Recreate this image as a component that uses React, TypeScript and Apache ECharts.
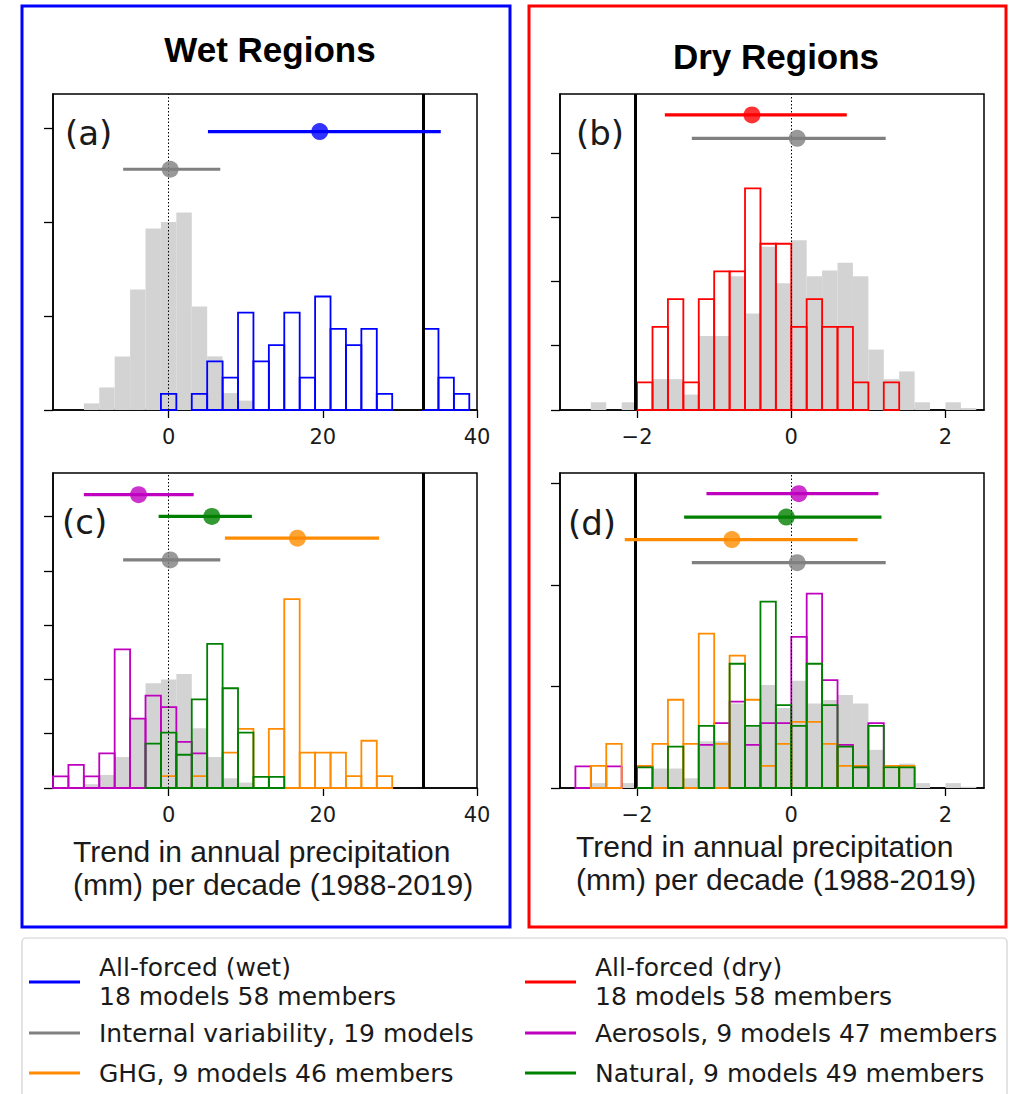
import React, { useEffect, useRef } from "react";
import * as echarts from "echarts";

// ---- Histogram bins ----
const WET_BIN_WIDTH = 2;
const DRY_BIN_WIDTH = 0.2;

// Wet regions (mm per decade)
const wetForcedCenters = [0, 2, 4, 6, 8, 10, 12, 14, 16, 18, 20, 22, 24, 26, 28, 30, 32, 34, 36, 38];
const wetForcedCounts = [1, 0, 1, 3, 2, 6, 3, 4, 6, 2, 7, 5, 4, 5, 1, 0, 0, 5, 2, 1];
const wetInternalCenters = [-10, -8, -6, -4, -2, 0, 2, 4, 6, 8, 10];
const wetInternalDensity = [0.0035, 0.012, 0.0285, 0.064, 0.0965, 0.1, 0.105, 0.055, 0.0285, 0.009, 0.005];
const wetAerosolCenters = [-14, -12, -10, -8, -6, -4, -2, 0, 2, 4];
const wetAerosolCounts = [1, 2, 1, 3, 12, 6, 8, 7, 4, 3];
const wetNaturalCenters = [-2, 0, 2, 4, 6, 8, 10, 12, 14];
const wetNaturalCounts = [4, 5, 3, 8, 13, 9, 5, 1, 1];
const wetGhgCenters = [0, 2, 4, 6, 8, 10, 12, 14, 16, 18, 20, 22, 24, 26, 28];
const wetGhgCounts = [1, 0, 1, 0, 3, 5, 0, 5, 16, 3, 3, 3, 1, 4, 1];

// Dry regions (mm per decade)
const dryForcedCenters = [-1.9, -1.7, -1.5, -1.3, -1.1, -0.9, -0.7, -0.5, -0.3, -0.1, 0.1, 0.3, 0.5, 0.7, 0.9, 1.1, 1.3];
const dryForcedCounts = [1, 3, 4, 1, 4, 5, 5, 8, 6, 6, 3, 4, 3, 3, 1, 0, 1];
const dryInternalCenters = [-2.5, -2.3, -2.1, -1.9, -1.7, -1.5, -1.3, -1.1, -0.9, -0.7, -0.5, -0.3, -0.1, 0.1, 0.3, 0.5, 0.7, 0.9, 1.1, 1.3, 1.5, 1.7, 1.9, 2.1, 2.3];
const dryInternalDensity = [0.024, 0, 0.024, 0, 0.096, 0.096, 0.048, 0.23, 0.23, 0.416, 0.3, 0.508, 0.394, 0.528, 0.416, 0.434, 0.458, 0.416, 0.188, 0.096, 0.12, 0.024, 0, 0.024, 0.006];
const dryAerosolCenters = [-2.7, -2.5, -2.3, -2.1, -1.9, -1.7, -1.5, -1.3, -1.1, -0.9, -0.7, -0.5, -0.3, -0.1, 0.1, 0.3, 0.5, 0.7, 0.9, 1.1];
const dryAerosolCounts = [1, 0, 1, 0, 1, 0, 0, 0, 2, 3, 4, 2, 3, 3, 7, 9, 5, 2, 1, 3];
const dryNaturalCenters = [-1.9, -1.7, -1.5, -1.3, -1.1, -0.9, -0.7, -0.5, -0.3, -0.1, 0.1, 0.3, 0.5, 0.7, 0.9, 1.1, 1.3, 1.5];
const dryNaturalCounts = [1, 0, 2, 0, 3, 0, 6, 3, 9, 4, 3, 6, 4, 2, 1, 3, 1, 1];
const dryGhgCenters = [-2.5, -2.3, -2.1, -1.9, -1.7, -1.5, -1.3, -1.1, -0.9, -0.7, -0.5, -0.3, -0.1, 0.1, 0.3, 0.5, 0.7, 0.9, 1.1, 1.3, 1.5];
const dryGhgCounts = [1, 2, 0, 1, 2, 4, 2, 7, 2, 6, 4, 1, 2, 3, 3, 2, 1, 1, 0, 1, 1];

// Ensemble sizes
const FORCED_MEMBERS = 58;
const AEROSOL_MEMBERS = 47;
const NATURAL_MEMBERS = 49;
const GHG_MEMBERS = 46;

// Summary bars: [low, mean, high, height]
const wetForcedBar = [5.1, 19.6, 35.3, 0.148];
const wetInternalBarA = [-5.9, 0.2, 6.7, 0.128];
const wetAerosolBar = [-11.0, -3.9, 3.25, 0.27];
const wetNaturalBar = [-1.3, 5.6, 10.8, 0.25];
const wetGhgBar = [7.3, 16.7, 27.3, 0.23];
const wetInternalBarC = [-5.9, 0.2, 6.7, 0.21];
const dryForcedBar = [-1.64, -0.51, 0.72, 0.918];
const dryInternalBarB = [-1.29, 0.077, 1.225, 0.845];
const dryAerosolBar = [-1.1, 0.098, 1.13, 1.45];
const dryNaturalBar = [-1.39, -0.065, 1.17, 1.335];
const dryGhgBar = [-2.16, -0.77, 0.86, 1.224];
const dryInternalBarD = [-1.29, 0.077, 1.225, 1.11];

// Observed trends
const wetObserved = 33;
const dryObserved = -2.02;

// Axes
const wetXRange = [-15, 40];
const dryXRange = [-3, 2.5];
const wetXTicks = [0, 20, 40];
const dryXTicks = [-2, 0, 2];
const yMaxes = [0.168, 0.983, 0.29, 1.552];
const yTicks = [
  [0, 0.05, 0.1, 0.15],
  [0, 0.2, 0.4, 0.6, 0.8],
  [0, 0.05, 0.1, 0.15, 0.2, 0.25],
  [0, 0.5, 1.0, 1.5],
];

const C_BLUE = "#0000ff";
const C_RED = "#ff0000";
const C_GRAY = "#808080";
const C_ORANGE = "#ff8c00";
const C_MAGENTA = "#bf00bf";
const C_GREEN = "#008000";
const C_HIST_GRAY = "#d3d3d3";

const GRIDS = [
  { left: 53, top: 94, width: 424, height: 316 },
  { left: 560, top: 94, width: 424, height: 316 },
  { left: 53, top: 473, width: 424, height: 315 },
  { left: 560, top: 473, width: 424, height: 315 },
];

function toDensity(counts: number[], members: number, width: number) {
  return counts.map((c) => c / (members * width));
}

function histSeries(
  centers: number[],
  heights: number[],
  width: number,
  color: string,
  filled: boolean,
  idx: number,
  z: number
) {
  const data = centers
    .map((c, i) => [c - width / 2, c + width / 2, heights[i]])
    .filter((d) => d[2] > 0);
  return {
    type: "custom",
    xAxisIndex: idx,
    yAxisIndex: idx,
    z,
    silent: true,
    data,
    encode: { x: [0, 1], y: 2 },
    renderItem: (_params: any, api: any) => {
      const p0 = api.coord([api.value(0), 0]);
      const p1 = api.coord([api.value(1), api.value(2)]);
      return {
        type: "rect",
        shape: { x: p0[0], y: p1[1], width: p1[0] - p0[0], height: p0[1] - p1[1] },
        style: filled
          ? { fill: color, stroke: null }
          : { fill: "none", stroke: color, lineWidth: 1.8 },
      };
    },
  };
}

function summarySeries(bar: number[], color: string, idx: number) {
  return [
    {
      type: "line",
      xAxisIndex: idx,
      yAxisIndex: idx,
      z: 6,
      silent: true,
      symbol: "none",
      data: [
        [bar[0], bar[3]],
        [bar[2], bar[3]],
      ],
      lineStyle: { color, width: 3.2 },
    },
    {
      type: "scatter",
      xAxisIndex: idx,
      yAxisIndex: idx,
      z: 7,
      silent: true,
      symbol: "circle",
      symbolSize: 17,
      itemStyle: { color },
      data: [[bar[1], bar[3]]],
    },
  ];
}

function refLines(observed: number, idx: number) {
  return {
    type: "line",
    xAxisIndex: idx,
    yAxisIndex: idx,
    z: 5,
    silent: true,
    symbol: "none",
    data: [],
    markLine: {
      silent: true,
      symbol: "none",
      label: { show: false },
      animation: false,
      data: [
        { xAxis: 0, lineStyle: { color: "#000", width: 1, type: [1.5, 2] } },
        { xAxis: observed, lineStyle: { color: "#000", width: 3, type: "solid" } },
      ],
    },
  };
}

const fmtTick = (v: number) => (v < 0 ? "\u2212" + Math.abs(v) : String(v));

function buildOption() {
  const xAxis = [0, 1, 2, 3].map((i) => {
    const wet = i % 2 === 0;
    const range = wet ? wetXRange : dryXRange;
    const ticks = wet ? wetXTicks : dryXTicks;
    return {
      type: "value",
      gridIndex: i,
      min: range[0],
      max: range[1],
      splitLine: { show: false },
      axisLine: { show: true, onZero: false, lineStyle: { color: "#000", width: 1.5 } },
      axisTick: { show: true, length: 8, customValues: ticks, lineStyle: { color: "#000", width: 1.3 } },
      axisLabel: {
        show: true,
        customValues: ticks,
        formatter: fmtTick,
        margin: 16,
        fontSize: 21,
        fontFamily: "DejaVu Sans",
        color: "#1a1a1a",
      },
    };
  });
  const yAxis = [0, 1, 2, 3].map((i) => ({
    type: "value",
    gridIndex: i,
    min: 0,
    max: yMaxes[i],
    splitLine: { show: false },
    axisLine: { show: true, onZero: false, lineStyle: { color: "#000", width: 1.5 } },
    axisTick: { show: true, length: 9, customValues: yTicks[i], lineStyle: { color: "#000", width: 1.3 } },
    axisLabel: { show: false },
  }));

  const series: any[] = [
    // (a) wet, all-forced
    histSeries(wetInternalCenters, wetInternalDensity, WET_BIN_WIDTH, C_HIST_GRAY, true, 0, 1),
    histSeries(wetForcedCenters, toDensity(wetForcedCounts, FORCED_MEMBERS, WET_BIN_WIDTH), WET_BIN_WIDTH, C_BLUE, false, 0, 3),
    refLines(wetObserved, 0),
    ...summarySeries(wetForcedBar, C_BLUE, 0),
    ...summarySeries(wetInternalBarA, C_GRAY, 0),
    // (b) dry, all-forced
    histSeries(dryInternalCenters, dryInternalDensity, DRY_BIN_WIDTH, C_HIST_GRAY, true, 1, 1),
    histSeries(dryForcedCenters, toDensity(dryForcedCounts, FORCED_MEMBERS, DRY_BIN_WIDTH), DRY_BIN_WIDTH, C_RED, false, 1, 3),
    refLines(dryObserved, 1),
    ...summarySeries(dryForcedBar, C_RED, 1),
    ...summarySeries(dryInternalBarB, C_GRAY, 1),
    // (c) wet, single forcings
    histSeries(wetInternalCenters, wetInternalDensity, WET_BIN_WIDTH, C_HIST_GRAY, true, 2, 1),
    histSeries(wetAerosolCenters, toDensity(wetAerosolCounts, AEROSOL_MEMBERS, WET_BIN_WIDTH), WET_BIN_WIDTH, C_MAGENTA, false, 2, 3),
    histSeries(wetGhgCenters, toDensity(wetGhgCounts, GHG_MEMBERS, WET_BIN_WIDTH), WET_BIN_WIDTH, C_ORANGE, false, 2, 3),
    histSeries(wetNaturalCenters, toDensity(wetNaturalCounts, NATURAL_MEMBERS, WET_BIN_WIDTH), WET_BIN_WIDTH, C_GREEN, false, 2, 4),
    refLines(wetObserved, 2),
    ...summarySeries(wetAerosolBar, C_MAGENTA, 2),
    ...summarySeries(wetNaturalBar, C_GREEN, 2),
    ...summarySeries(wetGhgBar, C_ORANGE, 2),
    ...summarySeries(wetInternalBarC, C_GRAY, 2),
    // (d) dry, single forcings
    histSeries(dryInternalCenters, dryInternalDensity, DRY_BIN_WIDTH, C_HIST_GRAY, true, 3, 1),
    histSeries(dryAerosolCenters, toDensity(dryAerosolCounts, AEROSOL_MEMBERS, DRY_BIN_WIDTH), DRY_BIN_WIDTH, C_MAGENTA, false, 3, 3),
    histSeries(dryGhgCenters, toDensity(dryGhgCounts, GHG_MEMBERS, DRY_BIN_WIDTH), DRY_BIN_WIDTH, C_ORANGE, false, 3, 3),
    histSeries(dryNaturalCenters, toDensity(dryNaturalCounts, NATURAL_MEMBERS, DRY_BIN_WIDTH), DRY_BIN_WIDTH, C_GREEN, false, 3, 4),
    refLines(dryObserved, 3),
    ...summarySeries(dryAerosolBar, C_MAGENTA, 3),
    ...summarySeries(dryNaturalBar, C_GREEN, 3),
    ...summarySeries(dryGhgBar, C_ORANGE, 3),
    ...summarySeries(dryInternalBarD, C_GRAY, 3),
  ];

  const titleFont = { fontFamily: "Liberation Sans", fontWeight: "bold", fontSize: 35, fill: "#000" };
  const letterFont = { fontFamily: "DejaVu Sans", fontSize: 34, fill: "#1a1a1a" };
  const axisFont = { fontFamily: "Liberation Sans", fontSize: 30, fill: "#1a1a1a" };
  const legendFont = { fontFamily: "DejaVu Sans", fontSize: 25, fill: "#1a1a1a" };

  const text = (x: number, y: number, t: string, font: any, align = "left") => ({
    type: "text",
    x,
    y,
    silent: true,
    style: { text: t, ...font, textAlign: align, textVerticalAlign: "middle" },
  });
  const handle = (x: number, y: number, color: string) => ({
    type: "line",
    silent: true,
    shape: { x1: x, y1: y, x2: x + 51, y2: y },
    style: { stroke: color, lineWidth: 3 },
  });

  const graphic: any[] = [
    // region frames
    { type: "rect", silent: true, shape: { x: 22, y: 6, width: 488, height: 921 }, style: { fill: "none", stroke: C_BLUE, lineWidth: 3 } },
    { type: "rect", silent: true, shape: { x: 529, y: 6, width: 477, height: 921 }, style: { fill: "none", stroke: C_RED, lineWidth: 3 } },
    text(270, 49, "Wet Regions", titleFont, "center"),
    text(776, 56, "Dry Regions", titleFont, "center"),
    text(65, 133, "(a)", letterFont),
    text(576, 133, "(b)", letterFont),
    text(62, 522, "(c)", letterFont),
    text(568, 523, "(d)", letterFont),
    text(73, 851, "Trend in annual precipitation", axisFont),
    text(73, 884, "(mm) per decade (1988-2019)", axisFont),
    text(576, 846, "Trend in annual precipitation", axisFont),
    text(576, 879, "(mm) per decade (1988-2019)", axisFont),
    // legend
    { type: "rect", silent: true, shape: { x: 22, y: 938, width: 985, height: 162, r: 4 }, style: { fill: "#fff", stroke: "#d0d0d0", lineWidth: 1.2 } },
    handle(29, 982, C_BLUE),
    text(99, 967, "All-forced (wet)", legendFont),
    text(99, 996, "18 models 58 members", legendFont),
    handle(29, 1033, C_GRAY),
    text(99, 1033, "Internal variability, 19 models", legendFont),
    handle(29, 1073, C_ORANGE),
    text(99, 1073, "GHG, 9 models 46 members", legendFont),
    handle(525, 982, C_RED),
    text(595, 967, "All-forced (dry)", legendFont),
    text(595, 996, "18 models 58 members", legendFont),
    handle(525, 1033, C_MAGENTA),
    text(595, 1033, "Aerosols, 9 models 47 members", legendFont),
    handle(525, 1073, C_GREEN),
    text(595, 1073, "Natural, 9 models 49 members", legendFont),
  ];

  return {
    animation: false,
    backgroundColor: "#ffffff",
    grid: GRIDS.map((g) => ({ ...g, show: true, borderColor: "#000", borderWidth: 1.5, backgroundColor: "transparent", containLabel: false })),
    xAxis,
    yAxis,
    series,
    graphic,
  };
}

export default function App() {
  const ref = useRef<HTMLDivElement>(null);
  useEffect(() => {
    if (!ref.current) return;
    const chart = echarts.init(ref.current, undefined, { renderer: "svg" });
    chart.setOption(buildOption() as any);
    return () => chart.dispose();
  }, []);
  return (
    <div
      ref={ref}
      style={{ position: "absolute", left: 0, top: 0, width: 1015, height: 1094, background: "#fff" }}
    />
  );
}
